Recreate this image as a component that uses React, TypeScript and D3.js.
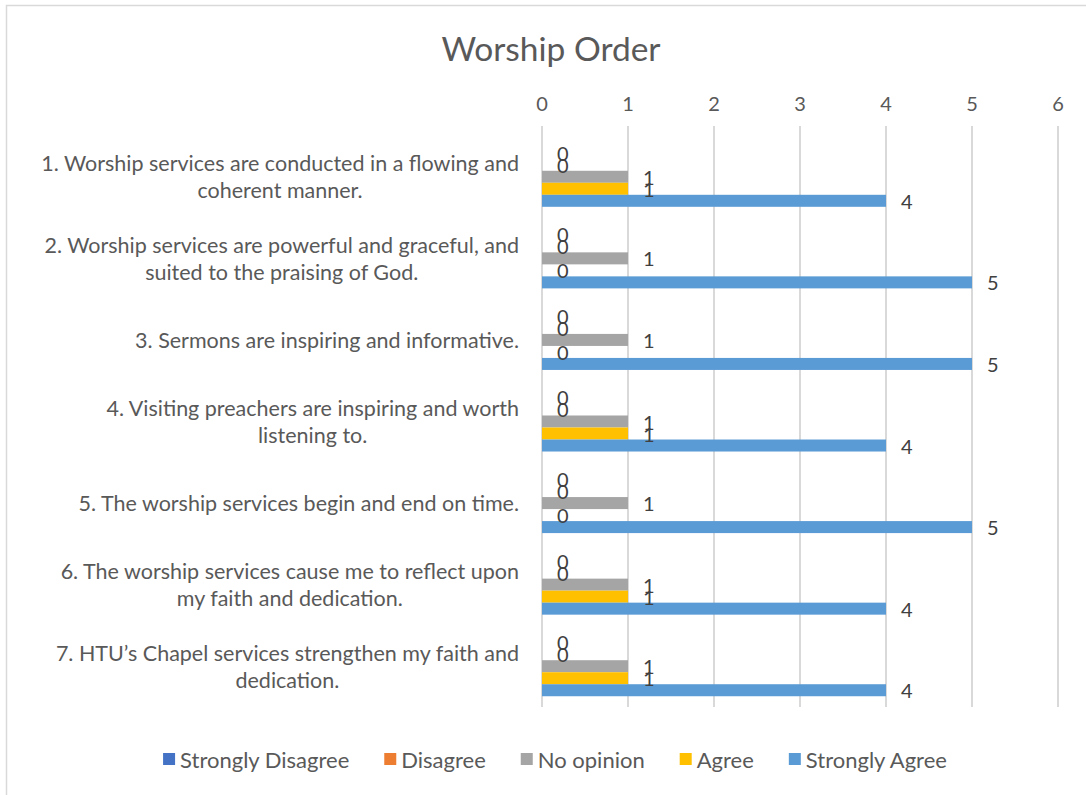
import { useEffect, useRef } from 'react'
import * as d3 from 'd3'

const categories = [
  '1. Worship services are conducted in a flowing and\ncoherent manner.',
  '2. Worship services are powerful and graceful, and\nsuited to the praising of God.',
  '3. Sermons are inspiring and informative.',
  '4. Visiting preachers are inspiring and worth\nlistening to.',
  '5. The worship services begin and end on time.',
  '6. The worship services cause me to reflect upon\nmy faith and dedication.',
  '7. HTU\u2019s Chapel services strengthen my faith and\ndedication.'
]

const seriesNames = ['Strongly Disagree', 'Disagree', 'No opinion', 'Agree', 'Strongly Agree']
const stronglyDisagree = [0, 0, 0, 0, 0, 0, 0]
const disagree = [0, 0, 0, 0, 0, 0, 0]
const noOpinion = [1, 1, 1, 1, 1, 1, 1]
const agree = [1, 0, 0, 1, 0, 1, 1]
const stronglyAgree = [4, 5, 5, 4, 5, 4, 4]
const seriesColors = ['#4472C4', '#ED7D31', '#A5A5A5', '#FFC000', '#5B9BD5']
const xTicks = [0, 1, 2, 3, 4, 5, 6]

const WIDTH = 1086
const HEIGHT = 795
const FONT = 'Lato, "Open Sans", sans-serif'

export default function App() {
  const svgRef = useRef<SVGSVGElement>(null)

  useEffect(() => {
    if (!svgRef.current) return
    const svg = d3.select(svgRef.current)
    svg.selectAll('*').remove()

    const series = [stronglyDisagree, disagree, noOpinion, agree, stronglyAgree]

    // chart frame
    svg.append('rect')
      .attr('x', 6.5).attr('y', 5.5)
      .attr('width', WIDTH + 20).attr('height', HEIGHT + 20)
      .attr('fill', '#fff').attr('stroke', '#d9d9d9').attr('stroke-width', 1.5)

    const x = d3.scaleLinear().domain([0, 6]).range([542, 1058])
    const y = d3.scaleBand<number>()
      .domain(d3.range(categories.length))
      .range([136, 707])
      .paddingInner(0.264)
      .paddingOuter(0.132)
    const ySub = d3.scaleBand<number>()
      .domain(d3.range(seriesNames.length))
      .range([0, y.bandwidth()])

    svg.append('text')
      .attr('x', 551).attr('y', 48)
      .attr('text-anchor', 'middle').attr('dominant-baseline', 'central')
      .attr('font-family', FONT).attr('font-size', 33.5).attr('fill', '#595959')
      .text('Worship Order')

    // gridlines
    svg.append('g').selectAll('line')
      .data(xTicks).enter().append('line')
      .attr('x1', d => x(d)).attr('x2', d => x(d))
      .attr('y1', 126).attr('y2', 707)
      .attr('stroke', '#d9d9d9').attr('stroke-width', 2)

    svg.append('g').selectAll('text')
      .data(xTicks).enter().append('text')
      .attr('x', d => x(d)).attr('y', 103)
      .attr('text-anchor', 'middle').attr('dominant-baseline', 'central')
      .attr('font-family', FONT).attr('font-size', 20).attr('fill', '#595959')
      .text(d => d)

    // category labels (block right-aligned, lines centred within it)
    const catG = svg.append('g')
    categories.forEach((c, i) => {
      const lines = c.split('\n')
      const cy = (y(i) as number) + y.bandwidth() / 2
      const lh = 27
      const t = catG.append('text')
        .attr('text-anchor', 'middle')
        .attr('font-family', FONT).attr('font-size', 21.5).attr('fill', '#595959')
      const spans = lines.map((l, k) =>
        t.append('tspan')
          .attr('x', 0)
          .attr('y', cy + (k - (lines.length - 1) / 2) * lh)
          .attr('dominant-baseline', 'central')
          .text(l)
      )
      const w = d3.max(spans, s => (s.node() as SVGTSpanElement).getComputedTextLength()) || 0
      t.selectAll('tspan').attr('x', 519 - w / 2)
    })

    // bars
    series.forEach((vals, s) => {
      svg.append('g').selectAll('rect')
        .data(vals).enter().append('rect')
        .attr('x', x(0))
        .attr('y', (_, i) => (y(i) as number) + (ySub(s) as number))
        .attr('width', d => x(d) - x(0))
        .attr('height', ySub.bandwidth())
        .attr('fill', seriesColors[s])
    })

    // value labels
    series.forEach((vals, s) => {
      svg.append('g').selectAll('text')
        .data(vals).enter().append('text')
        .attr('x', d => x(d) + 15)
        .attr('y', (_, i) => (y(i) as number) + (ySub(s) as number) + ySub.bandwidth() / 2)
        .attr('dominant-baseline', 'central')
        .attr('font-family', FONT).attr('font-size', 20).attr('fill', '#404040')
        .text(d => d)
    })

    // legend
    const legend = svg.append('g')
    let cx = 0
    const gap = 35
    seriesNames.forEach((n, s) => {
      const item = legend.append('g').attr('transform', `translate(${cx},0)`)
      item.append('rect')
        .attr('x', 0).attr('y', -6).attr('width', 12).attr('height', 12)
        .attr('fill', seriesColors[s])
      const t = item.append('text')
        .attr('x', 17).attr('y', 0).attr('dominant-baseline', 'central')
        .attr('font-family', FONT).attr('font-size', 22).attr('fill', '#595959')
        .text(n)
      cx += 17 + (t.node() as SVGTextElement).getComputedTextLength() + gap
    })
    const total = cx - gap
    legend.attr('transform', `translate(${555 - total / 2},759)`)
  }, [])

  return (
    <div style={{ position: 'absolute', left: 0, top: 0 }}>
      <svg ref={svgRef} width={WIDTH} height={HEIGHT} style={{ display: 'block' }} />
    </div>
  )
}
